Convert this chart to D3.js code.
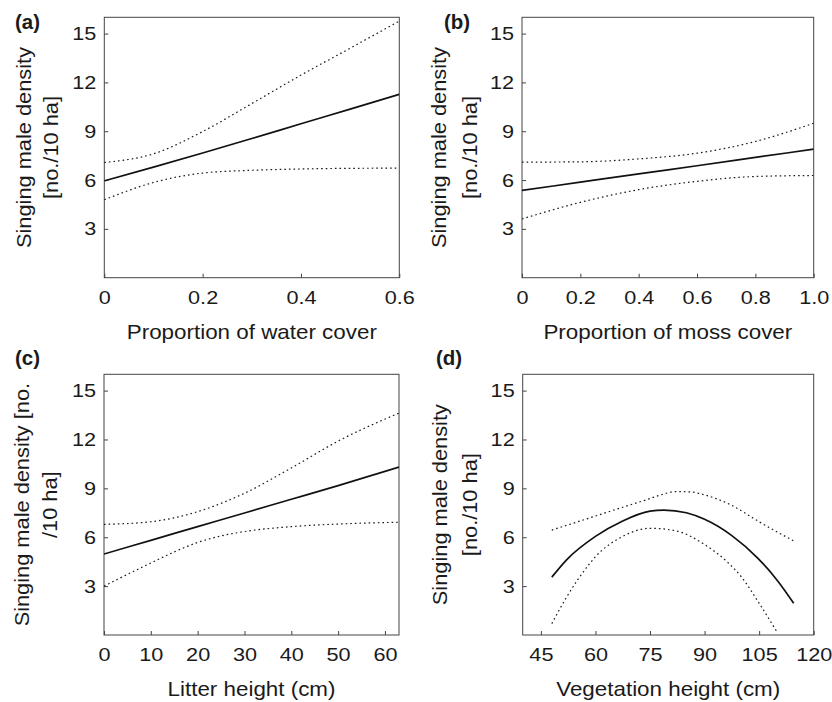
<!DOCTYPE html>
<html>
<head>
<meta charset="utf-8">
<script src="https://cdn.jsdelivr.net/npm/d3@7/dist/d3.min.js"></script>
<style>
  body { margin: 0; background: #fff; }
  svg, svg text { font-family: "Liberation Sans", Arial, sans-serif; }
</style>
</head>
<body>
<script>
// ---- data ----
const yTicks = [3, 6, 9, 12, 15];

// (a) water cover
const waterX     = [0, 0.1, 0.2, 0.3, 0.4, 0.5, 0.6];
const waterFit   = [5.95, 6.79, 7.66, 8.55, 9.46, 10.36, 11.27];
const waterUpper = [7.08, 7.61, 8.98, 10.7, 12.45, 14.1, 15.77];
const waterLower = [4.79, 5.85, 6.43, 6.6, 6.68, 6.72, 6.73];
const waterTicks = [0, 0.2, 0.4, 0.6];
const waterTickLabels = ["0", "0.2", "0.4", "0.6"];

// (b) moss cover
const mossX     = [0, 0.2, 0.4, 0.6, 0.8, 1.0];
const mossFit   = [5.36, 5.87, 6.38, 6.88, 7.39, 7.9];
const mossUpper = [7.1, 7.12, 7.3, 7.65, 8.37, 9.49];
const mossLower = [3.61, 4.63, 5.41, 5.92, 6.22, 6.28];
const mossTicks = [0, 0.2, 0.4, 0.6, 0.8, 1.0];
const mossTickLabels = ["0", "0.2", "0.4", "0.6", "0.8", "1.0"];

// (c) litter height
const litterX      = [0, 10, 20, 30, 40, 50, 63];
const litterFit    = [4.97, 5.81, 6.65, 7.49, 8.33, 9.17, 10.3];
const litterUpper  = [6.79, 6.95, 7.57, 8.7, 10.25, 11.9, 13.62];
const litterLowerX = [0, 5, 10, 15, 20, 25, 30, 40, 50, 63];
const litterLower  = [3.0, 3.72, 4.42, 5.1, 5.68, 6.08, 6.35, 6.65, 6.81, 6.92];
const litterTicks = [0, 10, 20, 30, 40, 50, 60];

// (d) vegetation height
const vegFitX   = [48, 52, 60, 67.5, 75, 78.8, 85, 90, 97.5, 104.6, 110, 114.5];
const vegFit    = [3.55, 4.6, 6.05, 7.0, 7.6, 7.67, 7.5, 7.1, 6.1, 4.72, 3.35, 1.95];
const vegUpperX = [48, 60, 68, 74, 78, 82, 86, 90, 97.5, 105, 114.5];
const vegUpper  = [6.44, 7.3, 7.88, 8.3, 8.6, 8.8, 8.78, 8.6, 7.95, 6.95, 5.77];
const vegLowerX = [48, 52, 55, 58.3, 60, 67.5, 75, 82, 90, 96.4, 100, 105, 110];
const vegLower  = [0.7, 2.3, 3.35, 4.35, 4.8, 6.05, 6.55, 6.4, 5.55, 4.45, 3.6, 1.95, 0.15];
const vegTicks = [45, 60, 75, 90, 105, 120];

// ---- panels ----
const panels = [
  { tag: "(a)", tagX: 15, tagY: 29, left: 104.3, top: 17.3, w: 295, h: 260.4,
    xDomain: [0, 0.6], ticks: waterTicks, tickLabels: waterTickLabels,
    xTitle: "Proportion of water cover",
    yTitle: ["Singing male density", "[no./10 ha]"], yTitleX: [31, 58],
    fit: [waterX, waterFit], upper: [waterX, waterUpper], lower: [waterX, waterLower] },
  { tag: "(b)", tagX: 444, tagY: 29, left: 522, top: 17.3, w: 291.7, h: 260.4,
    xDomain: [0, 1], ticks: mossTicks, tickLabels: mossTickLabels,
    xTitle: "Proportion of moss cover",
    yTitle: ["Singing male density", "[no./10 ha]"], yTitleX: [446, 477],
    fit: [mossX, mossFit], upper: [mossX, mossUpper], lower: [mossX, mossLower] },
  { tag: "(c)", tagX: 15, tagY: 365, left: 104, top: 374.3, w: 295, h: 260.7,
    xDomain: [0, 63], ticks: litterTicks, tickLabels: null,
    xTitle: "Litter height (cm)",
    yTitle: ["Singing male density [no.", "/10 ha]"], yTitleX: [29, 57],
    fit: [litterX, litterFit], upper: [litterX, litterUpper], lower: [litterLowerX, litterLower] },
  { tag: "(d)", tagX: 436, tagY: 365, left: 522.7, top: 374.3, w: 291, h: 260.7,
    xDomain: [40, 120], ticks: vegTicks, tickLabels: null,
    xTitle: "Vegetation height (cm)",
    yTitle: ["Singing male density", "[no./10 ha]"], yTitleX: [447, 477],
    fit: [vegFitX, vegFit], upper: [vegUpperX, vegUpper], lower: [vegLowerX, vegLower] }
];

// the original lettering runs a bit wider than Arial, so stretch along the text
const tickStretch = 1.14, titleStretch = 1.12, yTitleStretch = 1.09;

const svg = d3.select("body").append("svg")
    .attr("width", 832)
    .attr("height", 702);

panels.forEach(function(p, i) {
  const x = d3.scaleLinear().domain(p.xDomain).range([p.left, p.left + p.w]);
  const y = d3.scaleLinear().domain([0, 16]).range([p.top + p.h, p.top]);
  const bottom = p.top + p.h;

  // clip for curves
  svg.append("clipPath").attr("id", "clip" + i)
    .append("rect")
      .attr("x", p.left).attr("y", p.top)
      .attr("width", p.w).attr("height", p.h);

  // x axis (ticks point inward)
  const xAxis = d3.axisBottom(x)
      .tickValues(p.ticks)
      .tickSizeInner(-4)
      .tickSizeOuter(0)
      .tickPadding(13);
  if (p.tickLabels) xAxis.tickFormat((d, j) => p.tickLabels[j]);
  else xAxis.tickFormat(d3.format("d"));

  const gx = svg.append("g")
      .attr("transform", "translate(0," + bottom + ")")
      .call(xAxis);
  gx.select(".domain").remove();
  gx.selectAll("line").attr("stroke", "#444");
  gx.selectAll("text")
      .attr("fill", "#1a1a1a")
      .attr("font-family", "Liberation Sans, Arial, sans-serif")
      .style("font-size", "19px")
      .attr("dy", "0.71em")
      .attr("transform", "scale(" + tickStretch + ",1)");

  // y axis
  const yAxis = d3.axisLeft(y)
      .tickValues(yTicks)
      .tickSizeInner(-4)
      .tickSizeOuter(0)
      .tickPadding(8);
  const gy = svg.append("g")
      .attr("transform", "translate(" + p.left + ",0)")
      .call(yAxis);
  gy.select(".domain").remove();
  gy.selectAll("line").attr("stroke", "#444");
  gy.selectAll("text")
      .attr("fill", "#1a1a1a")
      .attr("font-family", "Liberation Sans, Arial, sans-serif")
      .style("font-size", "19px")
      .attr("x", -8 / tickStretch)
      .attr("transform", "scale(" + tickStretch + ",1)");

  // frame
  svg.append("rect")
      .attr("x", p.left).attr("y", p.top)
      .attr("width", p.w).attr("height", p.h)
      .attr("fill", "none")
      .attr("stroke", "#444")
      .attr("stroke-width", 1);

  // curves
  const line = d3.line()
      .x(d => x(d[0]))
      .y(d => y(d[1]))
      .curve(d3.curveMonotoneX);
  const pairs = s => s[0].map((v, j) => [v, s[1][j]]);

  const g = svg.append("g").attr("clip-path", "url(#clip" + i + ")");
  [p.upper, p.lower].forEach(function(s) {
    g.append("path")
        .datum(pairs(s))
        .attr("d", line)
        .attr("fill", "none")
        .attr("stroke", "#1a1a1a")
        .attr("stroke-width", 1.2)
        .attr("stroke-dasharray", "1.6,3");
  });
  g.append("path")
      .datum(pairs(p.fit))
      .attr("d", line)
      .attr("fill", "none")
      .attr("stroke", "#111")
      .attr("stroke-width", 1.7);

  // x title
  svg.append("text")
      .attr("transform", "translate(" + (p.left + p.w / 2) + "," + (bottom + 61) + ") scale(" + titleStretch + ",1)")
      .attr("text-anchor", "middle")
      .attr("fill", "#1a1a1a")
      .style("font-size", "20px")
      .text(p.xTitle);

  // y title (two rotated lines)
  const cy = p.top + p.h / 2;
  p.yTitle.forEach(function(t, j) {
    svg.append("text")
        .attr("transform", "translate(" + p.yTitleX[j] + "," + cy + ") rotate(-90) scale(" + yTitleStretch + ",1)")
        .attr("text-anchor", "middle")
        .attr("fill", "#1a1a1a")
        .style("font-size", "20px")
        .text(t);
  });

  // panel tag
  svg.append("text")
      .attr("transform", "translate(" + p.tagX + "," + p.tagY + ") scale(1.05,1)")
      .attr("fill", "#1a1a1a")
      .style("font-size", "19.5px")
      .style("font-weight", "bold")
      .text(p.tag);
});
</script>
</body>
</html>
